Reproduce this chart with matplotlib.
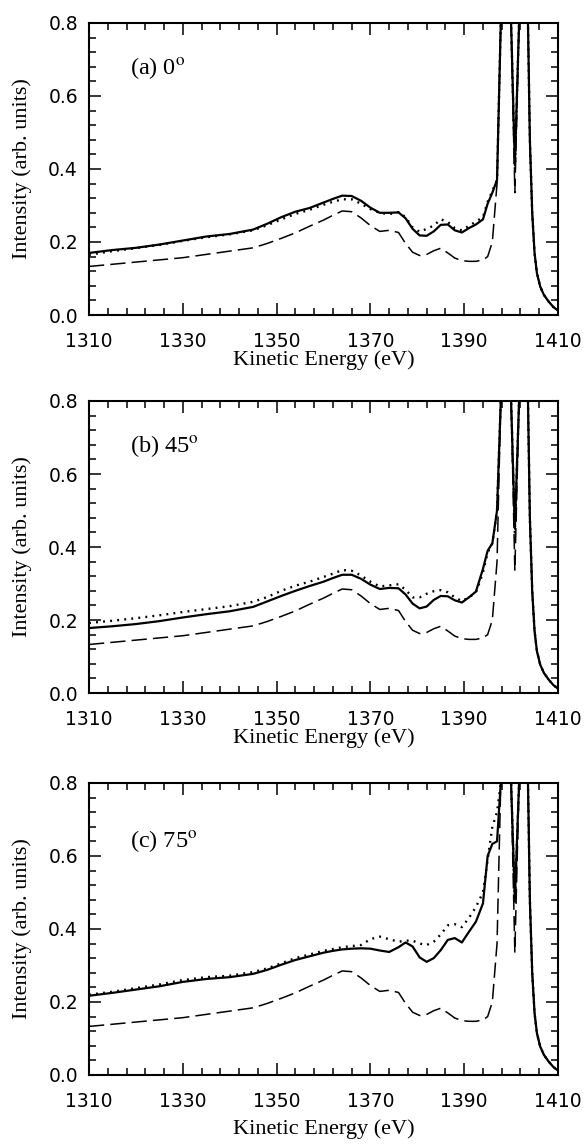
import matplotlib
matplotlib.use('Agg')
import matplotlib.pyplot as plt
import numpy as np
from matplotlib.ticker import FixedLocator

# 刻度用无衬线，坐标轴标题用Times风格
plt.rcParams['font.family'] = ['DejaVu Sans']
plt.rcParams['mathtext.fontset'] = 'stix'

# 能量网格 (eV)
energy = [1310, 1315, 1320, 1325, 1330, 1335, 1340, 1345, 1348, 1351, 1354, 1357,
          1360, 1362, 1364, 1366, 1368, 1370, 1372, 1374, 1376,
          1377.5, 1379, 1380.5, 1382, 1383.5, 1385, 1386.5, 1388, 1389.5, 1391, 1392.5,
          1394, 1395, 1396, 1397, 1397.8,
          1399, 1400, 1400.8, 1401.7, 1402.7, 1403.6,
          1404, 1404.5, 1405, 1405.5, 1406.2, 1407, 1408, 1409, 1410]

# 虚线：三个面板都一样
dashed_ref = [0.133, 0.139, 0.145, 0.151, 0.157, 0.166, 0.175, 0.184, 0.196, 0.210, 0.225, 0.243,
              0.260, 0.273, 0.285, 0.283, 0.266, 0.245, 0.229, 0.232, 0.226,
              0.196, 0.172, 0.163, 0.166, 0.176, 0.183, 0.170, 0.156, 0.149, 0.147, 0.147,
              0.151, 0.160, 0.200, 0.360, 0.8,
              1.2, 0.8, 0.335, 0.8, 1.2, 0.8,
              0.48, 0.28, 0.17, 0.115, 0.078, 0.055, 0.037, 0.022, 0.012]

# (a) 0度
solid_a = [0.170, 0.178, 0.184, 0.193, 0.204, 0.215, 0.222, 0.234, 0.250, 0.268, 0.283, 0.293,
           0.308, 0.318, 0.327, 0.326, 0.313, 0.294, 0.280, 0.280, 0.281,
           0.265, 0.236, 0.218, 0.217, 0.229, 0.247, 0.248, 0.232, 0.226, 0.238, 0.248,
           0.262, 0.305, 0.335, 0.370, 0.8,
           1.2, 0.8, 0.410, 0.8, 1.2, 0.8,
           0.48, 0.28, 0.17, 0.115, 0.078, 0.055, 0.037, 0.022, 0.012]
dotted_a = [0.165, 0.175, 0.183, 0.192, 0.203, 0.213, 0.221, 0.232, 0.246, 0.262, 0.277, 0.288,
            0.302, 0.310, 0.317, 0.317, 0.305, 0.290, 0.280, 0.276, 0.282,
            0.268, 0.240, 0.228, 0.236, 0.245, 0.262, 0.255, 0.238, 0.232, 0.244, 0.256,
            0.268, 0.310, 0.340, 0.370, 0.8,
            1.2, 0.8, 0.400, 0.8, 1.2, 0.8,
            0.48, 0.28, 0.17, 0.115, 0.078, 0.055, 0.037, 0.022, 0.012]

# (b) 45度
solid_b = [0.178, 0.183, 0.189, 0.197, 0.207, 0.216, 0.224, 0.236, 0.251, 0.266, 0.280, 0.293,
           0.305, 0.315, 0.324, 0.324, 0.313, 0.297, 0.285, 0.288, 0.287,
           0.270, 0.245, 0.232, 0.237, 0.255, 0.266, 0.265, 0.254, 0.248, 0.262, 0.278,
           0.340, 0.390, 0.410, 0.500, 0.8,
           1.2, 0.8, 0.450, 0.8, 1.2, 0.8,
           0.48, 0.28, 0.17, 0.115, 0.078, 0.055, 0.037, 0.022, 0.012]
dotted_b = [0.192, 0.198, 0.205, 0.213, 0.222, 0.230, 0.238, 0.250, 0.263, 0.280, 0.294, 0.305,
            0.318, 0.327, 0.337, 0.335, 0.322, 0.305, 0.292, 0.295, 0.298,
            0.283, 0.262, 0.262, 0.272, 0.279, 0.282, 0.276, 0.262, 0.252, 0.262, 0.275,
            0.330, 0.385, 0.410, 0.500, 0.8,
            1.2, 0.8, 0.440, 0.8, 1.2, 0.8,
            0.48, 0.28, 0.17, 0.115, 0.078, 0.055, 0.037, 0.022, 0.012]

# (c) 75度
solid_c = [0.217, 0.225, 0.234, 0.243, 0.255, 0.263, 0.268, 0.277, 0.288, 0.302, 0.315, 0.325,
           0.335, 0.340, 0.344, 0.346, 0.347, 0.346, 0.341, 0.337, 0.350,
           0.363, 0.352, 0.322, 0.310, 0.320, 0.342, 0.370, 0.375, 0.363, 0.392, 0.420,
           0.470, 0.600, 0.633, 0.640, 0.8,
           1.2, 0.8, 0.480, 0.8, 1.2, 0.8,
           0.48, 0.28, 0.17, 0.115, 0.078, 0.055, 0.037, 0.022, 0.012]
dotted_c = [0.220, 0.228, 0.238, 0.248, 0.260, 0.268, 0.272, 0.282, 0.292, 0.306, 0.320, 0.330,
            0.340, 0.345, 0.350, 0.353, 0.356, 0.372, 0.379, 0.372, 0.365,
            0.368, 0.368, 0.360, 0.356, 0.365, 0.385, 0.410, 0.413, 0.405, 0.430, 0.460,
            0.500, 0.590, 0.680, 0.720, 0.8,
            1.2, 0.8, 0.470, 0.8, 1.2, 0.8,
            0.48, 0.28, 0.17, 0.115, 0.078, 0.055, 0.037, 0.022, 0.012]

panel_labels = ['(a) 0$^{\\rm o}$', '(b) 45$^{\\rm o}$', '(c) 75$^{\\rm o}$']
x_ticks = [1310, 1330, 1350, 1370, 1390, 1410]
y_ticks = [0.0, 0.2, 0.4, 0.6, 0.8]

serif = ['Liberation Serif', 'DejaVu Serif']


def draw_panel(ax, solid, dotted, label, label_y, xlabel_y):
    ax.plot(energy, dashed_ref, color='black', linewidth=1.1, dashes=(10, 4))
    ax.plot(energy, dotted, color='black', linewidth=1.7, dashes=(0.8, 2.2))
    ax.plot(energy, solid, color='black', linewidth=1.6)

    ax.set_xlim(1310, 1410)
    ax.set_ylim(0, 0.8)
    ax.xaxis.set_major_locator(FixedLocator(x_ticks))
    ax.xaxis.set_minor_locator(FixedLocator(np.arange(1310, 1411, 4)))
    ax.yaxis.set_major_locator(FixedLocator(y_ticks))
    ax.yaxis.set_minor_locator(FixedLocator(np.arange(0, 0.81, 0.04)))
    ax.set_xticklabels([str(t) for t in x_ticks])
    ax.set_yticklabels(['%.1f' % t for t in y_ticks])

    # 刻度朝内，四边都有
    ax.tick_params(which='both', direction='in', top=True, right=True, width=1.1)
    ax.tick_params(which='major', length=8.5, labelsize=13.5)
    ax.tick_params(which='minor', length=4.8)
    ax.tick_params(axis='x', which='major', pad=12.5)
    ax.tick_params(axis='y', which='major', pad=8)
    for sp in ax.spines.values():
        sp.set_linewidth(1.5)

    ax.set_ylabel('Intensity (arb. units)', family=serif, fontsize=16)
    ax.yaxis.set_label_coords(-0.122, 0.5)
    ax.set_xlabel('Kinetic Energy (eV)', family=serif, fontsize=16)
    ax.xaxis.set_label_coords(0.5, xlabel_y)

    ax.text(0.088, label_y, label, transform=ax.transAxes, family=serif,
            fontsize=17.5, va='center', ha='left')


fig = plt.figure(figsize=(5.87, 11.48), dpi=100)
ax_a = fig.add_axes([0.1516, 0.7256, 0.799, 0.2544])
ax_b = fig.add_axes([0.1516, 0.3963, 0.799, 0.2544])
ax_c = fig.add_axes([0.1516, 0.0636, 0.799, 0.2544])

draw_panel(ax_a, solid_a, dotted_a, panel_labels[0], 0.845, -0.122)
draw_panel(ax_b, solid_b, dotted_b, panel_labels[1], 0.845, -0.122)
draw_panel(ax_c, solid_c, dotted_c, panel_labels[2], 0.80, -0.15)

fig.savefig('out.png', dpi=100, facecolor='white')
